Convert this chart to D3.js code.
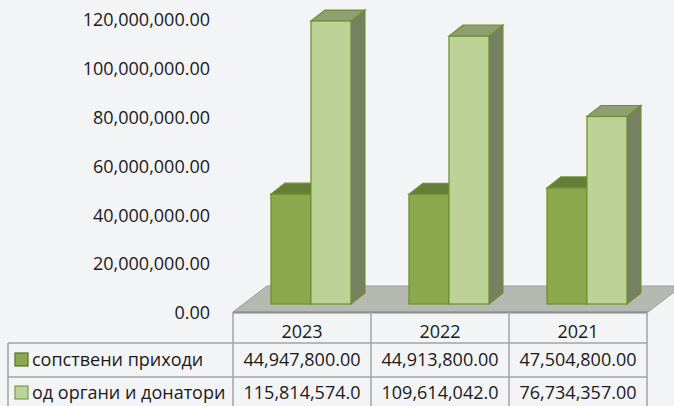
<!DOCTYPE html>
<html>
<head>
<meta charset="utf-8">
<script src="https://cdn.jsdelivr.net/npm/d3@7"></script>
<style>
  body { margin: 0; background: #f3f4f6; }
  svg { display: block; font-family: "Open Sans", sans-serif; }
</style>
</head>
<body>
<div class="chart"></div>
<script>
// Data
const years = ["2023", "2022", "2021"];
const seriesNames = ["сопствени приходи", "од органи и донатори"];
const ownIncome = [44947800, 44913800, 47504800];
const donorIncome = [115814574, 109614042, 76734357];
const ownLabels = ["44,947,800.00", "44,913,800.00", "47,504,800.00"];
const donorLabels = ["115,814,574.0", "109,614,042.0", "76,734,357.00"];
const yTicks = [0, 20000000, 40000000, 60000000, 80000000, 100000000, 120000000];

const width = 674, height = 406;
const svg = d3.select(".chart").append("svg")
    .attr("width", width)
    .attr("height", height);

// Colors
const frontColors = ["#8ba84d", "#bcd296"];
const topColors = ["#657e36", "#8f9f72"];
const sideColors = ["#5e7531", "#758160"];
const edge = "#6d8f2f";

// Scales
const xScale = d3.scaleBand().domain(years).range([233, 647]);
const barScale = d3.scaleLinear().domain([0, 120000000]).range([304, 10.8]);
const labelScale = d3.scaleLinear().domain([0, 120000000]).range([313, 20]);

const barW = 40, depthX = 14, depthY = 11;

// Y axis labels
const yAxis = d3.axisLeft(labelScale)
    .tickValues(yTicks)
    .tickFormat(d3.format(",.2f"))
    .tickSize(0)
    .tickPadding(0);
const yg = svg.append("g")
    .attr("transform", "translate(210,0)")
    .call(yAxis);
yg.select(".domain").remove();
yg.selectAll("text")
    .style("font-family", "Open Sans, sans-serif")
    .style("font-size", "18px")
    .attr("fill", "#1a1a1a");

// Floor
const fl = 233, fr = 648, fy = 312, fdx = 34, fdy = 26;
svg.append("path")
    .attr("d", `M${fl},${fy} L${fl + fdx},${fy - fdy} L${fr + fdx},${fy - fdy} L${fr},${fy} Z`)
    .attr("fill", "#b6b9b2")
    .attr("stroke", "#9a9c98")
    .attr("stroke-width", 1);
svg.append("line")
    .attr("x1", fl).attr("x2", fr)
    .attr("y1", fy + 0.5).attr("y2", fy + 0.5)
    .attr("stroke", "#8c8e8b")
    .attr("stroke-width", 2);

// Bars
const values = [ownIncome, donorIncome];
years.forEach((yr, i) => {
    const x0 = xScale(yr) + xScale.bandwidth() * 0.275;
    values.forEach((vals, s) => {
        const x = x0 + s * barW;
        const y = barScale(vals[i]);
        const y0 = barScale(0);
        const g = svg.append("g");
        // side
        g.append("path")
            .attr("d", `M${x + barW},${y} L${x + barW + depthX},${y - depthY} L${x + barW + depthX},${y0 - depthY} L${x + barW},${y0} Z`)
            .attr("fill", sideColors[s]).attr("stroke", edge).attr("stroke-width", 1.2);
        // top
        g.append("path")
            .attr("d", `M${x},${y} L${x + depthX},${y - depthY} L${x + barW + depthX},${y - depthY} L${x + barW},${y} Z`)
            .attr("fill", topColors[s]).attr("stroke", edge).attr("stroke-width", 1.2);
        // front
        g.append("rect")
            .attr("x", x).attr("y", y)
            .attr("width", barW).attr("height", y0 - y)
            .attr("fill", frontColors[s]).attr("stroke", edge).attr("stroke-width", 1.2);
    });
});

// Data table
const lineColor = "#a3a3a3";
const tbl = svg.append("g").attr("stroke", lineColor).attr("stroke-width", 1.5);
const rowTop = 343, rowMid = 377, rowBot = 406;
tbl.append("line").attr("x1", 8).attr("x2", 647).attr("y1", rowTop).attr("y2", rowTop);
tbl.append("line").attr("x1", 8).attr("x2", 647).attr("y1", rowMid).attr("y2", rowMid);
tbl.append("line").attr("x1", 8).attr("x2", 8).attr("y1", rowTop).attr("y2", rowBot);
tbl.selectAll(".vline")
    .data(years.concat(["end"]))
    .join("line")
    .attr("x1", (d, i) => 233 + i * xScale.bandwidth())
    .attr("x2", (d, i) => 233 + i * xScale.bandwidth())
    .attr("y1", fy).attr("y2", rowBot);

const textStyle = sel => sel
    .style("font-size", "18px")
    .attr("fill", "#1a1a1a");

svg.selectAll(".year-label")
    .data(years)
    .join("text")
    .attr("class", "year-label")
    .attr("x", d => xScale(d) + xScale.bandwidth() / 2)
    .attr("y", 338)
    .attr("text-anchor", "middle")
    .text(d => d)
    .call(textStyle);

[ownLabels, donorLabels].forEach((labels, s) => {
    svg.selectAll(".row" + s)
        .data(labels)
        .join("text")
        .attr("class", "row" + s)
        .attr("x", (d, i) => xScale(years[i]) + xScale.bandwidth() / 2)
        .attr("y", s === 0 ? 366 : 399)
        .attr("text-anchor", "middle")
        .text(d => d)
        .call(textStyle);
});

// Legend keys in table
seriesNames.forEach((name, s) => {
    const cy = s === 0 ? 360 : 393;
    svg.append("rect")
        .attr("x", 15).attr("y", cy - 7)
        .attr("width", 13).attr("height", 13)
        .attr("fill", frontColors[s])
        .attr("stroke", s === 0 ? "#55722a" : "#7c9a4c")
        .attr("stroke-width", 1.2);
    svg.append("text")
        .attr("x", 32)
        .attr("y", s === 0 ? 366 : 399)
        .text(name)
        .call(textStyle);
});
</script>
</body>
</html>
